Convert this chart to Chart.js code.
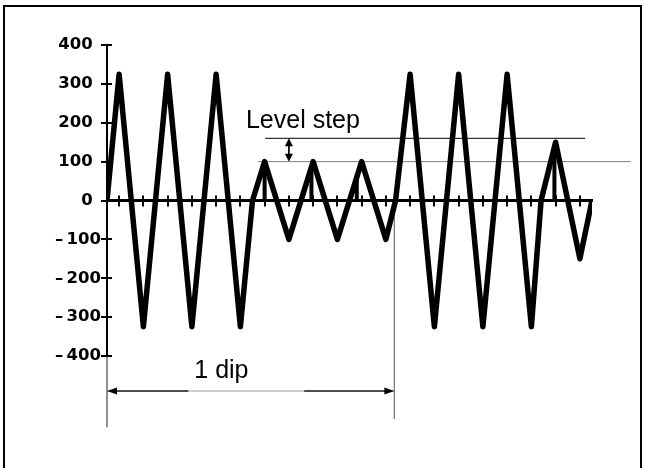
<!DOCTYPE html>
<html>
<head>
<meta charset="utf-8">
<script src="https://cdn.jsdelivr.net/npm/chart.js@4"></script>
<style>
  body { margin: 0; background: #fff; }
  canvas { display: block; }
</style>
</head>
<body>
<canvas id="dipChart" width="645" height="468"></canvas>
<script>
// waveform samples (x in half-cycle units, y in volts)
const sampleX = [0, 0.5, 1.5, 2.5, 3.5, 4.5, 5.5, 6.0, 6.5, 7.5, 8.5, 9.5, 10.5, 11.5, 11.9, 12.5, 13.5, 14.5, 15.5, 16.5, 17.5, 17.9, 18.5, 19.5, 20];
const sampleY = [0, 325, -325, 325, -325, 325, -325, 0, 100, -100, 100, -100, 100, -100, 0, 325, -325, 325, -325, 325, -325, 0, 150, -150, 0];

// short vertical strokes under the small peaks
const spikeX = [6.5, 8.43, 10.3, 18.45];
const spikeTop = [100, 85, 60, 135];

const xTicks = [0.5, 1.5, 2.5, 3.5, 4.5, 5.5, 6.5, 7.5, 8.5, 9.5, 10.5, 11.5, 12.5, 13.5, 14.5, 15.5, 16.5, 17.5, 18.5, 19.5];
const yTicks = [-400, -300, -200, -100, 0, 100, 200, 300, 400];

const levelHigh = 160;
const levelLow = 100;
const dipEndX = 11.85;
const dipArrowY = -490;

function toPoints(xs, ys) {
  return xs.map((x, i) => ({ x: x, y: ys[i] }));
}

function segment(x1, y1, x2, y2, color, width) {
  return {
    data: [{ x: x1, y: y1 }, { x: x2, y: y2 }],
    borderColor: color,
    borderWidth: width,
    pointRadius: 0,
    showLine: true,
    clip: false
  };
}

function buildDatasets() {
  const sets = [];
  sets.push({
    data: toPoints(sampleX, sampleY),
    borderColor: "#000",
    borderWidth: 5.5,
    borderJoinStyle: "round",
    pointRadius: 0,
    showLine: true,
    tension: 0
  });
  spikeX.forEach((x, i) => {
    sets.push(segment(x, 0, x, spikeTop[i], "#000", 4));
  });
  sets.push(segment(6.52, levelHigh, 19.72, levelHigh, "#000", 1));
  sets.push(segment(6.22, levelLow, 21.6, levelLow, "#808080", 1));
  sets.push(segment(0, -400, 0, -583, "#808080", 1));
  sets.push(segment(dipEndX, -17, dipEndX, -562, "#808080", 1));
  sets.push(segment(0, dipArrowY, dipEndX, dipArrowY, "#9a9a9a", 1));
  sets.push(segment(0.3, dipArrowY, 3.35, dipArrowY, "#000", 2));
  sets.push(segment(8.13, dipArrowY, dipEndX - 0.3, dipArrowY, "#000", 2));
  sets.push(segment(7.5, levelHigh - 12, 7.5, levelLow + 12, "#000", 1));
  return sets;
}

function formatTick(v) {
  return v >= 0 ? v + "\u2002" : "\u2013\u2009" + Math.abs(v);
}

function arrowHead(ctx, tipX, tipY, dx, dy, len, half) {
  ctx.beginPath();
  ctx.moveTo(tipX, tipY);
  ctx.lineTo(tipX - dx * len - dy * half, tipY - dy * len - dx * half);
  ctx.lineTo(tipX - dx * len + dy * half, tipY - dy * len + dx * half);
  ctx.closePath();
  ctx.fill();
}

const annotationPlugin = {
  id: "annotations",
  beforeDraw(chart) {
    const ctx = chart.ctx;
    ctx.save();
    ctx.fillStyle = "#fff";
    ctx.fillRect(0, 0, chart.width, chart.height);
    ctx.strokeStyle = "#000";
    ctx.lineWidth = 2;
    ctx.strokeRect(4, 6, 637, 470);
    ctx.restore();
  },
  afterDraw(chart) {
    const ctx = chart.ctx;
    const xs = chart.scales.x;
    const ys = chart.scales.y;
    const x0 = xs.getPixelForValue(0);
    const y0 = ys.getPixelForValue(0);
    ctx.save();
    ctx.strokeStyle = "#000";
    ctx.fillStyle = "#000";
    ctx.lineWidth = 2;
    xs.ticks.forEach(t => {
      const px = Math.round(xs.getPixelForValue(t.value));
      ctx.beginPath();
      ctx.moveTo(px, y0 - 5);
      ctx.lineTo(px, y0 + 6);
      ctx.stroke();
    });
    ys.ticks.forEach(t => {
      const py = Math.round(ys.getPixelForValue(t.value));
      ctx.beginPath();
      ctx.moveTo(x0 - 6, py);
      ctx.lineTo(x0 + 5, py);
      ctx.stroke();
    });

    const ax = xs.getPixelForValue(7.5);
    arrowHead(ctx, ax, ys.getPixelForValue(levelHigh), 0, -1, 8, 4);
    arrowHead(ctx, ax, ys.getPixelForValue(levelLow), 0, 1, 8, 4);

    const dy = ys.getPixelForValue(dipArrowY);
    arrowHead(ctx, x0, dy, -1, 0, 10, 3.5);
    arrowHead(ctx, xs.getPixelForValue(dipEndX), dy, 1, 0, 10, 3.5);

    ctx.font = "25px 'Liberation Sans', Arial, sans-serif";
    ctx.textBaseline = "alphabetic";
    ctx.textAlign = "left";
    ctx.fillText("Level step", xs.getPixelForValue(5.73), ys.getPixelForValue(186));
    ctx.fillText("1 dip", xs.getPixelForValue(3.6), ys.getPixelForValue(-457));
    ctx.restore();
  }
};

function drawChart() {
  const ctx = document.getElementById("dipChart").getContext("2d");
  new Chart(ctx, {
    type: "scatter",
    data: { datasets: buildDatasets() },
    options: {
      responsive: false,
      animation: false,
      layout: { padding: { top: 45, bottom: 112, right: 53, left: 0 } },
      plugins: { legend: { display: false }, tooltip: { enabled: false } },
      scales: {
        x: {
          type: "linear",
          min: 0,
          max: 20,
          position: { y: 0 },
          afterBuildTicks: scale => { scale.ticks = xTicks.map(v => ({ value: v })); },
          grid: { display: false, drawTicks: false },
          border: { display: true, color: "#000", width: 3 },
          ticks: { display: false }
        },
        y: {
          type: "linear",
          min: -400,
          max: 400,
          afterBuildTicks: scale => { scale.ticks = yTicks.map(v => ({ value: v })); },
          afterFit: scale => { scale.width = 107; },
          grid: { display: false, drawTicks: false },
          border: { display: true, color: "#000", width: 2 },
          ticks: {
            padding: 6,
            color: "#000",
            font: { family: "'DejaVu Sans'", weight: "bold", size: 16.5 },
            callback: formatTick
          }
        }
      }
    },
    plugins: [annotationPlugin]
  });
}

document.addEventListener("DOMContentLoaded", function () {
  drawChart();
});
</script>
</body>
</html>
